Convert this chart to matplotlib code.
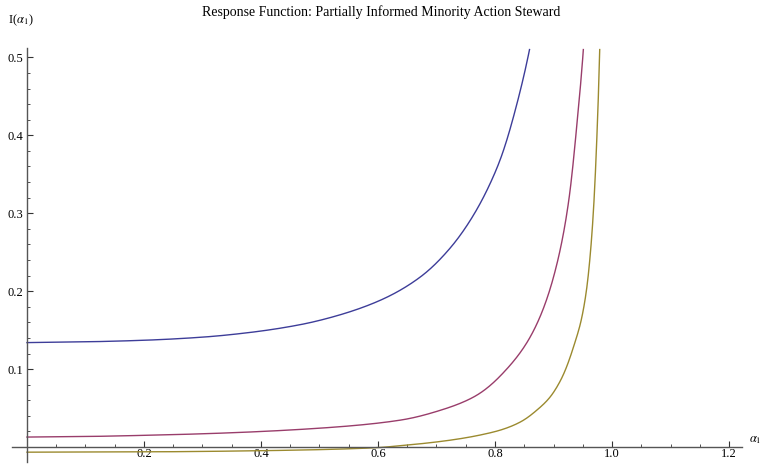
import numpy as np
import matplotlib.pyplot as plt

plt.rcParams['font.family'] = ['Liberation Serif', 'DejaVu Serif']
plt.rcParams['mathtext.fontset'] = 'stix'

# values
a_blue = [0.0, 0.10, 0.20, 0.30, 0.381, 0.467, 0.518, 0.603, 0.672, 0.723,
          0.757, 0.791, 0.809, 0.837, 0.859]
i_blue = [0.134, 0.135, 0.137, 0.141, 0.147, 0.157, 0.166, 0.188, 0.218, 0.255,
          0.290, 0.337, 0.369, 0.439, 0.510]

a_red = [0.0, 0.10, 0.20, 0.30, 0.467, 0.638, 0.706, 0.763, 0.820, 0.860,
         0.900, 0.926, 0.940, 0.951]
i_red = [0.0128, 0.0135, 0.0150, 0.0170, 0.0226, 0.0345, 0.047, 0.064, 0.100, 0.141,
         0.218, 0.316, 0.414, 0.510]

a_gold = [0.0, 0.20, 0.40, 0.598, 0.638, 0.774, 0.809, 0.843, 0.871, 0.894,
          0.911, 0.934, 0.948, 0.957, 0.962, 0.968, 0.974, 0.979]
i_gold = [-0.0066, -0.0062, -0.0047, -0.0008, 0.0017, 0.0153, 0.0217, 0.032, 0.047, 0.064,
          0.084, 0.128, 0.165, 0.205, 0.240, 0.300, 0.395, 0.510]

colors = ['#3d3d99', '#993d6b', '#9b8a2f']


def pchip(x, y, xs):
    # monotone cubic through the read points (Fritsch-Carlson)
    x = np.asarray(x, float)
    y = np.asarray(y, float)
    h = np.diff(x)
    d = np.diff(y) / h
    m = np.zeros_like(y)
    m[0], m[-1] = d[0], d[-1]
    for k in range(1, len(x) - 1):
        if d[k - 1] * d[k] > 0:
            w1 = 2 * h[k] + h[k - 1]
            w2 = h[k] + 2 * h[k - 1]
            m[k] = (w1 + w2) / (w1 / d[k - 1] + w2 / d[k])
    idx = np.clip(np.searchsorted(x, xs) - 1, 0, len(x) - 2)
    t = (xs - x[idx]) / h[idx]
    h00 = 2 * t**3 - 3 * t**2 + 1
    h10 = t**3 - 2 * t**2 + t
    h01 = -2 * t**3 + 3 * t**2
    h11 = t**3 - t**2
    return h00 * y[idx] + h10 * h[idx] * m[idx] + h01 * y[idx + 1] + h11 * h[idx] * m[idx + 1]


fig = plt.figure(figsize=(7.63, 4.65), dpi=100)
ax = fig.add_axes([12/763, 3/465, 730/763, 414/465])

for a, v, c in [(a_blue, i_blue, colors[0]), (a_red, i_red, colors[1]), (a_gold, i_gold, colors[2])]:
    aa = np.linspace(a[0], a[-1], 800)
    # interpolate 1/(y+c), nearly straight for a curve that blows up
    z = pchip(a, 1.0 / (np.asarray(v) + 0.02), aa)
    ax.plot(aa, 1.0 / z - 0.02, color=c, lw=1.0)

ax.set_xlim(-0.0256, 1.2222)
ax.set_ylim(-0.0192, 0.512)

for s in ['top', 'right']:
    ax.spines[s].set_visible(False)
ax.spines['left'].set_position(('data', 0))
ax.spines['bottom'].set_position(('data', 0))
for s in ['left', 'bottom']:
    ax.spines[s].set_color('#555555')
    ax.spines[s].set_linewidth(1.0)

ax.set_xticks([0.2, 0.4, 0.6, 0.8, 1.0, 1.2])
ax.set_xticklabels(['0.2', '0.4', '0.6', '0.8', '1.0', '1.2'])
ax.set_xticks(np.arange(0.0, 1.21, 0.05), minor=True)
ax.set_yticks([0.1, 0.2, 0.3, 0.4, 0.5])
ax.set_yticklabels(['0.1', '0.2', '0.3', '0.4', '0.5'])
ax.set_yticks(np.arange(0.0, 0.511, 0.02), minor=True)
ax.tick_params(axis='both', which='major', direction='in', length=4, width=0.8,
               color='#333333', labelsize=9, pad=3)
ax.tick_params(axis='both', which='minor', direction='in', length=2.2, width=0.6,
               color='#333333')
ax.tick_params(axis='x', which='major', pad=0.5)

fig.text(0.5, 1 - 12/465, 'Response Function: Partially Informed Minority Action Steward',
         ha='center', va='center', fontsize=10)
fig.text(8/763, 1 - 20/465, r'I($\alpha_1$)', ha='left', va='center', fontsize=9)
fig.text(749/763, 1 - 446/465, r'$\alpha_1$', ha='left', va='bottom', fontsize=9)

fig.savefig('out.png', dpi=100)
